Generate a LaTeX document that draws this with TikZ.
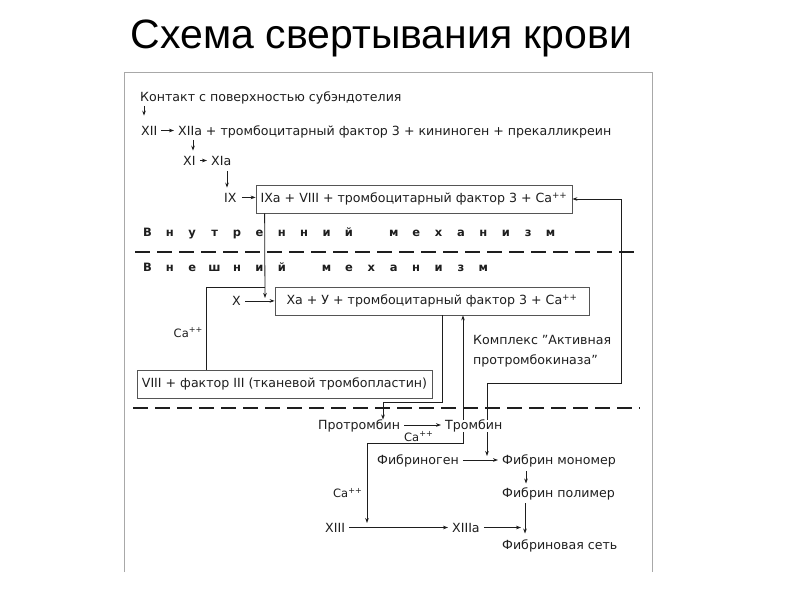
\documentclass[tikz,border=0pt]{standalone}
\usepackage{fontspec}
\setmainfont{DejaVu Sans}
\newfontfamily\titlefont{Liberation Sans}
\usetikzlibrary{arrows.meta}
\newcommand\lsp[1]{\makebox[22.4pt][c]{#1}}
\newcommand\dq{\char34\relax}
\definecolor{ink}{HTML}{1E1E1E}
\definecolor{boxgray}{HTML}{555555}
\definecolor{framegray}{HTML}{A8A8A8}
\begin{document}
\begin{tikzpicture}[x=1pt,y=-1pt,
  txt/.style={font=\fontsize{12.6}{15}\selectfont, text=ink, inner sep=0pt, anchor=base west},
  ca/.style={font=\fontsize{11.5}{14}\selectfont, text=ink, inner sep=0pt, anchor=base west},
  hd/.style={font=\bfseries\fontsize{11.5}{14}\selectfont, text=ink, inner sep=0pt, anchor=base west},
  box/.style={draw=boxgray, line width=0.8pt, inner sep=0pt, minimum height=28pt, font=\fontsize{12.6}{15}\selectfont, text=ink},
  ln/.style={draw=ink, line width=0.8pt},
  arr/.style={ln, -{Stealth[length=5pt,width=3.6pt]}},
  dsh/.style={draw=ink, line width=1.2pt, dash pattern=on 15pt off 7pt}]
\useasboundingbox (0,0) rectangle (800,600);
\fill[white] (0,0) rectangle (800,600);
% title
\node[font=\titlefont\fontsize{41}{48}\selectfont, anchor=base, inner sep=0pt] (title) at (381.5,48) {Схема свертывания крови};
% frame
\draw[framegray, line width=1pt] (124,572) -- (124,72) -- (652,72) -- (652,572);
% intrinsic pathway
\node[txt] (contact) at (140,101) {Контакт с поверхностью субэндотелия};
\node[txt] (xii) at (141,135) {XII};
\node[txt] (xiia) at (178,135) {XIIa + тромбоцитарный фактор 3 + кининоген + прекалликреин};
\node[txt] (xi) at (183,165) {XI};
\node[txt] (xia) at (211,165) {XIa};
\node[txt] (ix) at (224,202) {IX};
\node[box, minimum width=316pt] (ixa) at (414,199) {IXa + VIII + тромбоцитарный фактор 3 + Ca\textsuperscript{++}};
\draw[arr, shorten <=2pt, shorten >=10pt] ([xshift=4pt]contact.south west) -- ([xshift=4pt]contact.south west |- xii.north);
\draw[arr, shorten <=2pt, shorten >=5pt] ([xshift=15pt]xiia.south west) -- ([xshift=15pt]xiia.south west |- xi.north);
\draw[arr, shorten <=6pt, shorten >=5pt] ([xshift=16pt]xia.south west) -- ([xshift=16pt]xia.south west |- ix.north);
\draw[arr, shorten <=4pt, shorten >=4pt] ([yshift=4.5pt]xii.base east) -- ([yshift=4.5pt]xiia.base west);
\draw[arr, shorten <=4pt, shorten >=4pt] ([yshift=4.5pt]xi.base east) -- ([yshift=4.5pt]xia.base west);
\draw[arr, shorten <=5pt] (ix.east) -- (ix.east -| ixa.west);
% headings and separators
\node[hd] (inner) at (136,236.5) {\lsp{В}\lsp{н}\lsp{у}\lsp{т}\lsp{р}\lsp{е}\lsp{н}\lsp{н}\lsp{и}\lsp{й}\lsp{}\lsp{м}\lsp{е}\lsp{х}\lsp{а}\lsp{н}\lsp{и}\lsp{з}\lsp{м}};
\draw[dsh] (135,252) -- (640,252);
\node[hd] (outer) at (136,271.5) {\lsp{В}\lsp{н}\lsp{е}\lsp{ш}\lsp{н}\lsp{и}\lsp{й}\lsp{}\lsp{м}\lsp{е}\lsp{х}\lsp{а}\lsp{н}\lsp{и}\lsp{з}\lsp{м}};
% extrinsic pathway
\node[txt] (x) at (232,305.5) {X};
\node[box, minimum width=314pt] (xa) at (432,301) {Xa + У + тромбоцитарный фактор 3 + Ca\textsuperscript{++}};
\draw[arr, shorten <=4pt] (x.east) -- (x.east -| xa.west);
\coordinate (join) at (265,287);
\coordinate (jtip) at (265,298);
\draw[arr] ([xshift=9pt]ixa.south west) -- (jtip);
\node[box, minimum width=295pt] (viii) at (284.5,384) {VIII + фактор III (тканевой тромбопластин)};
\draw[ln] ([xshift=70pt]viii.north west) |- (join);
\node[ca, anchor=base east] (ca1) at (203,337) {Ca\textsuperscript{++}};
\node[txt, align=left, anchor=north west, font=\fontsize{12.6}{20}\selectfont] (complex) at (473,335.5) {Комплекс \dq Активная\\протромбокиназа\dq};
\draw[dsh] (133,408) -- (640,408);
% prothrombin -> thrombin
\node[txt] (protr) at (318,429.5) {Протромбин};
\node[txt] (tromb) at (445,429.5) {Тромбин};
\draw[arr, shorten <=4pt, shorten >=4pt] ([yshift=4.5pt]protr.base east) -- ([yshift=4.5pt]tromb.base west);
\node[ca] (ca2) at (404,441) {Ca\textsuperscript{++}};
\coordinate (c1) at (383,402);
\draw[arr] ([xshift=168pt]xa.south west) |- (c1) -- (c1 |- protr.north);
\draw[arr] ([xshift=18pt]tromb.north west) -- ([xshift=18pt]tromb.north west |- xa.south);
\coordinate (fb) at (621,383);
\draw[arr] ([xshift=42pt]tromb.north west) |- (fb) |- (ixa.east);
% fibrin
\node[txt] (fgen) at (377,464.5) {Фибриноген};
\node[txt] (fmono) at (502,464.5) {Фибрин мономер};
\node[txt] (fpoly) at (502,497.5) {Фибрин полимер};
\node[txt] (fnet) at (502,549.5) {Фибриновая сеть};
\node[ca] (ca3) at (333,497.5) {Ca\textsuperscript{++}};
\node[txt] (xiii) at (325,532) {XIII};
\node[txt] (xiiia) at (452,532) {XIIIa};
\coordinate (c2) at (367,443);
\coordinate (c3) at (367,523);
\coordinate (c4) at (487,456);
\draw[arr] ([xshift=18pt]tromb.south west) |- (c2) -- (c3);
\draw[arr] ([xshift=42pt]tromb.south west) -- (c4);
\draw[arr, shorten <=4pt, shorten >=4pt] ([yshift=4.5pt]fgen.base east) -- ([yshift=4.5pt]fmono.base west);
\draw[arr, shorten <=4pt, shorten >=4pt] ([xshift=24pt]fmono.south west) -- ([xshift=24pt]fmono.south west |- fpoly.north);
\draw[arr, shorten <=4pt, shorten >=4pt] ([yshift=4.5pt]xiii.base east) -- ([yshift=4.5pt]xiiia.base west);
\draw[arr, shorten <=3pt, shorten >=6pt] ([xshift=23pt]fpoly.south west) -- ([xshift=23pt]fpoly.south west |- fnet.north);
\coordinate (netx) at ([xshift=19pt]fpoly.south west);
\draw[arr, shorten <=4pt] ([yshift=4.5pt]xiiia.base east) -- ([yshift=4.5pt]xiiia.base east -| netx);
\end{tikzpicture}
\end{document}
